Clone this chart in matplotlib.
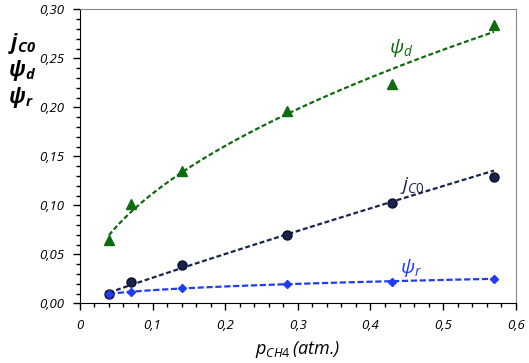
import matplotlib.pyplot as plt
import numpy as np
from matplotlib.ticker import MultipleLocator, FuncFormatter

# data
p_ch4 = np.array([0.04, 0.07, 0.14, 0.285, 0.43, 0.57])
j_c0 = np.array([0.0095, 0.0215, 0.0395, 0.070, 0.102, 0.129])
psi_d = np.array([0.065, 0.101, 0.1355, 0.196, 0.224, 0.284])
psi_r = np.array([0.0095, 0.012, 0.016, 0.020, 0.022, 0.025])

green = '#0e6b0e'
navy = '#16244f'
blue = '#1f3cf0'

plt.rcParams['font.family'] = ['Open Sans', 'DejaVu Sans']
plt.rcParams['mathtext.fontset'] = 'custom'
plt.rcParams['mathtext.it'] = 'Open Sans:italic'
plt.rcParams['mathtext.rm'] = 'Open Sans'
plt.rcParams['mathtext.bfit'] = 'Open Sans:italic:bold'


def power_fit(x, y):
    b, ln_a = np.polyfit(np.log(x), np.log(y), 1)
    xs = np.linspace(x.min(), x.max(), 100)
    return xs, np.exp(ln_a) * xs ** b


fig = plt.figure(figsize=(5.29, 3.63), dpi=100)
ax = fig.add_axes([0.151, 0.164, 0.824, 0.81])

# psi_d
xs, ys = power_fit(p_ch4, psi_d)
ax.plot(xs, ys, '--', color=green, lw=1.6, dashes=(2.2, 1.2), zorder=2)
ax.plot(p_ch4, psi_d, '^', color=green, ms=6.5, zorder=3)

# j_c0
xs, ys = power_fit(p_ch4, j_c0)
ax.plot(xs, ys, '--', color=navy, lw=1.6, dashes=(2.2, 1.2), zorder=2)
ax.plot(p_ch4, j_c0, 'o', color=navy, ms=6.5, mec='#0a1020', zorder=3)

# psi_r
xs, ys = power_fit(p_ch4, psi_r)
ax.plot(xs, ys, '--', color=blue, lw=1.6, dashes=(2.8, 1.2), zorder=2)
ax.plot(p_ch4, psi_r, 'D', color=blue, ms=4.5, zorder=3)

ax.set_xlim(0, 0.6)
ax.set_ylim(0, 0.30)
ax.xaxis.set_major_locator(MultipleLocator(0.1))
ax.xaxis.set_minor_locator(MultipleLocator(0.02))
ax.yaxis.set_major_locator(MultipleLocator(0.05))
ax.yaxis.set_minor_locator(MultipleLocator(0.01))

ax.xaxis.set_major_formatter(FuncFormatter(
    lambda v, pos: '0' if abs(v) < 1e-9 else f'{v:.1f}'.replace('.', ',')))
ax.yaxis.set_major_formatter(FuncFormatter(lambda v, pos: f'{v:.2f}'.replace('.', ',')))

ax.tick_params(which='major', length=5, width=1, labelsize=9.5, pad=6)
ax.tick_params(which='minor', length=3, width=1)
for lab in ax.get_xticklabels() + ax.get_yticklabels():
    lab.set_style('italic')

for s in ['top', 'right']:
    ax.spines[s].set_color('#888888')
for s in ['left', 'bottom']:
    ax.spines[s].set_color('black')

ax.set_xlabel(r'$p_{CH4}\,$(atm.)', fontsize=13, style='italic', labelpad=5)

ax.text(0.425, 0.256, r'$\psi_d$', color=green, fontsize=14)
ax.text(0.44, 0.116, r'$j_{C0}$', color=navy, fontsize=14)
ax.text(0.44, 0.031, r'$\psi_r$', color=blue, fontsize=14)

fig.text(0.015, 0.865, r'$\mathbfit{j}_{\mathbfit{C0}}$', fontsize=15)
fig.text(0.015, 0.79, r'$\mathbfit{\psi}_{\mathbfit{d}}$', fontsize=15)
fig.text(0.015, 0.715, r'$\mathbfit{\psi}_{\mathbfit{r}}$', fontsize=15)

fig.savefig('out.png', dpi=100)
